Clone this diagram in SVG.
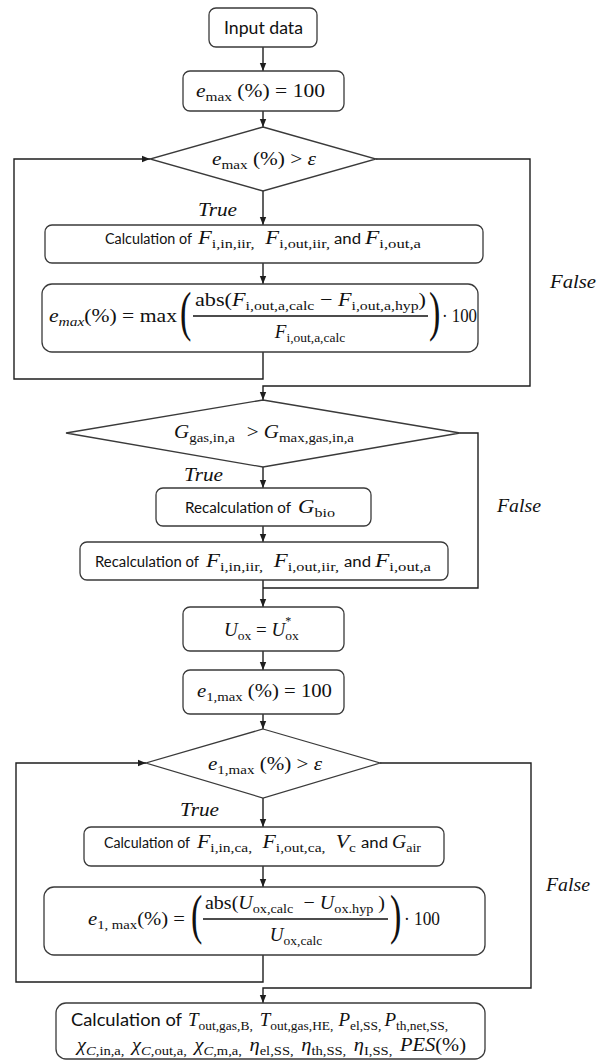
<svg xmlns="http://www.w3.org/2000/svg" width="603" height="1064" viewBox="0 0 603 1064">
<defs>
<style>
.bx{fill:#fff;stroke:#3a3a3a;stroke-width:1.3}
.ln{fill:none;stroke:#1e1e1e;stroke-width:1.4}
.ar{marker-end:url(#ah)}
text{fill:#111}
.s{font-family:Lato,"Liberation Sans",sans-serif;font-size:15.5px;font-style:normal}
.m{font-family:"Liberation Serif",serif;font-size:19px}
.i{font-style:italic}
.b{font-size:13.5px}
.s2{font-family:Lato,"Liberation Sans",sans-serif;font-size:17.5px;font-style:normal}
.bp{font-family:"Liberation Serif",serif;font-size:55px}
</style>
<marker id="ah" viewBox="0 0 10 10" refX="10" refY="5" markerWidth="8" markerHeight="8" markerUnits="userSpaceOnUse" orient="auto"><path d="M0,1 L10,5 L0,9 z" fill="#1e1e1e"/></marker>
</defs>
<rect width="603" height="1064" fill="#fff"/>
<g id="connectors">
<path class="ln ar" d="M263,47 V71"/>
<path class="ln ar" d="M263,111 V127"/>
<path class="ln ar" d="M263,191 V225"/>
<path class="ln ar" d="M263,263 V284"/>
<path class="ln ar" d="M263,352 V379 H14 V159 H150"/>
<path class="ln ar" d="M376,159 H530 V386 H263 V400"/>
<path class="ln ar" d="M263,467 V488"/>
<path class="ln ar" d="M263,526 V542"/>
<path class="ln ar" d="M263,580 V607"/>
<path class="ln" d="M460,433 H478 V588 H263"/>
<path class="ln ar" d="M263,651 V670"/>
<path class="ln ar" d="M263,714 V729"/>
<path class="ln ar" d="M263,798 V827"/>
<path class="ln ar" d="M263,866 V887"/>
<path class="ln ar" d="M263,955 V982 H16 V763 H146"/>
<path class="ln ar" d="M380,763 H531 V988 H263 V1003"/>
<text class="m i" x="198" y="216" textLength="39" lengthAdjust="spacingAndGlyphs">True</text>
<text class="m i" x="550" y="288" textLength="46" lengthAdjust="spacingAndGlyphs">False</text>
<text class="m i" x="184" y="481" textLength="39" lengthAdjust="spacingAndGlyphs">True</text>
<text class="m i" x="497" y="512" textLength="44" lengthAdjust="spacingAndGlyphs">False</text>
<text class="m i" x="180" y="816" textLength="39" lengthAdjust="spacingAndGlyphs">True</text>
<text class="m i" x="546" y="891" textLength="44" lengthAdjust="spacingAndGlyphs">False</text>
</g>
<g id="n-input">
<rect class="bx" x="209" y="8" width="108" height="39" rx="7"/>
<text class="s" style="font-size:18px" x="224" y="34" textLength="79" lengthAdjust="spacingAndGlyphs">Input data</text>
</g>
<g id="n-emax-init">
<rect class="bx" x="183" y="71" width="161" height="40" rx="7"/>
<text class="m" x="196" y="97" textLength="129" lengthAdjust="spacingAndGlyphs"><tspan class="i">e</tspan><tspan class="b" dy="4">max</tspan><tspan dy="-4"> (%) = 100</tspan></text>
</g>
<g id="n-dec1">
<polygon class="bx" points="263,127 376,159 263,191 150,159"/>
<text class="m" x="212" y="165" textLength="104" lengthAdjust="spacingAndGlyphs"><tspan class="i">e</tspan><tspan class="b" dy="4">max</tspan><tspan dy="-4"> (%) &gt; </tspan><tspan class="i">ε</tspan></text>
</g>
<g id="n-calc1">
<rect class="bx" x="45" y="225" width="438" height="38" rx="7"/>
<text class="s" x="105" y="244" textLength="87" lengthAdjust="spacingAndGlyphs">Calculation of</text>
<text class="m" x="198" y="244" textLength="132" lengthAdjust="spacingAndGlyphs"><tspan class="i">F</tspan><tspan class="b" dy="4">i,in,iir,</tspan><tspan class="i" dx="9" dy="-4">F</tspan><tspan class="b" dy="4">i,out,iir,</tspan></text>
<text class="s" x="334" y="244" textLength="27" lengthAdjust="spacingAndGlyphs">and</text>
<text class="m" x="365" y="244" textLength="56" lengthAdjust="spacingAndGlyphs"><tspan class="i">F</tspan><tspan class="b" dy="4">i,out,a</tspan></text>
</g>
<g id="n-formula1">
<rect class="bx" x="42" y="284" width="436" height="68" rx="10"/>
<text class="m" x="49" y="322" textLength="128" lengthAdjust="spacingAndGlyphs"><tspan class="i">e</tspan><tspan class="b i" dy="4">max</tspan><tspan dy="-4">(%) = max</tspan></text>
<text class="bp" transform="translate(180,330) scale(0.62,1)">(</text>
<text class="m" x="195" y="306" textLength="231" lengthAdjust="spacingAndGlyphs">abs(<tspan class="i">F</tspan><tspan class="b" dy="4">i,out,a,calc</tspan><tspan dy="-4"> − </tspan><tspan class="i">F</tspan><tspan class="b" dy="4">i,out,a,hyp</tspan><tspan dy="-4">)</tspan></text>
<line x1="193" y1="316" x2="428" y2="316" stroke="#111" stroke-width="1.3"/>
<text class="m" x="310" y="338" text-anchor="middle"><tspan class="i">F</tspan><tspan class="b" dy="4">i,out,a,calc</tspan></text>
<text class="bp" transform="translate(429,330) scale(0.62,1)">)</text>
<text class="m" x="442" y="322" textLength="35" lengthAdjust="spacingAndGlyphs">· 100</text>
</g>
<g id="n-dec2">
<polygon class="bx" points="263,400 460,433 263,467 66,433"/>
<text class="m" x="174" y="438" textLength="180" lengthAdjust="spacingAndGlyphs"><tspan class="i">G</tspan><tspan class="b" dy="4">gas,in,a</tspan><tspan dx="6" dy="-4"> &gt; </tspan><tspan class="i">G</tspan><tspan class="b" dy="4">max,gas,in,a</tspan></text>
</g>
<g id="n-gbio">
<rect class="bx" x="156" y="488" width="215" height="38" rx="7"/>
<text class="s" x="185" y="513" textLength="106" lengthAdjust="spacingAndGlyphs">Recalculation of</text>
<text class="m" x="298" y="513" textLength="37" lengthAdjust="spacingAndGlyphs"><tspan class="i">G</tspan><tspan class="b" dy="4">bio</tspan></text>
</g>
<g id="n-recalc">
<rect class="bx" x="80" y="542" width="368" height="38" rx="7"/>
<text class="s" x="95" y="567" textLength="104" lengthAdjust="spacingAndGlyphs">Recalculation of</text>
<text class="m" x="206" y="567" textLength="133" lengthAdjust="spacingAndGlyphs"><tspan class="i">F</tspan><tspan class="b" dy="4">i,in,iir,</tspan><tspan class="i" dx="9" dy="-4">F</tspan><tspan class="b" dy="4">i,out,iir,</tspan></text>
<text class="s" x="344" y="567" textLength="27" lengthAdjust="spacingAndGlyphs">and</text>
<text class="m" x="375" y="567" textLength="56" lengthAdjust="spacingAndGlyphs"><tspan class="i">F</tspan><tspan class="b" dy="4">i,out,a</tspan></text>
</g>
<g id="n-uox">
<rect class="bx" x="183" y="607" width="161" height="44" rx="7"/>
<text class="m" x="224" y="636"><tspan class="i">U</tspan><tspan class="b" dy="4">ox</tspan><tspan dy="-4"> = </tspan><tspan class="i">U</tspan><tspan class="b" style="font-size:12px" dy="-11">*</tspan><tspan class="b" dx="-6" dy="15">ox</tspan></text>
</g>
<g id="n-e1-init">
<rect class="bx" x="183" y="670" width="161" height="44" rx="7"/>
<text class="m" x="197" y="697" textLength="135" lengthAdjust="spacingAndGlyphs"><tspan class="i">e</tspan><tspan class="b" dy="4">1,max</tspan><tspan dy="-4"> (%) = 100</tspan></text>
</g>
<g id="n-dec3">
<polygon class="bx" points="263,729 380,763 263,798 146,763"/>
<text class="m" x="208" y="770" textLength="114" lengthAdjust="spacingAndGlyphs"><tspan class="i">e</tspan><tspan class="b" dy="4">1,max</tspan><tspan dy="-4"> (%) &gt; </tspan><tspan class="i">ε</tspan></text>
</g>
<g id="n-calc3">
<rect class="bx" x="84" y="827" width="360" height="39" rx="7"/>
<text class="s" x="104" y="848" textLength="86" lengthAdjust="spacingAndGlyphs">Calculation of</text>
<text class="m" x="197" y="848" textLength="159" lengthAdjust="spacingAndGlyphs"><tspan class="i">F</tspan><tspan class="b" dy="4">i,in,ca,</tspan><tspan class="i" dx="9" dy="-4">F</tspan><tspan class="b" dy="4">i,out,ca,</tspan><tspan class="i" dx="9" dy="-4">V</tspan><tspan class="b" dy="4">c</tspan></text>
<text class="s" x="361" y="848" textLength="27" lengthAdjust="spacingAndGlyphs">and</text>
<text class="m" x="392" y="848" textLength="29" lengthAdjust="spacingAndGlyphs"><tspan class="i">G</tspan><tspan class="b" dy="4">air</tspan></text>
</g>
<g id="n-formula2">
<rect class="bx" x="44" y="887" width="441" height="68" rx="10"/>
<text class="m" x="88" y="925" textLength="97" lengthAdjust="spacingAndGlyphs"><tspan class="i">e</tspan><tspan class="b" dy="4">1, max</tspan><tspan dy="-4">(%) =</tspan></text>
<text class="bp" transform="translate(191,933) scale(0.62,1)">(</text>
<text class="m" x="205" y="909" textLength="180" lengthAdjust="spacingAndGlyphs">abs(<tspan class="i">U</tspan><tspan class="b" dy="4">ox,calc</tspan><tspan dx="5" dy="-4"> − </tspan><tspan class="i">U</tspan><tspan class="b" dy="4">ox.hyp</tspan><tspan dy="-4"> )</tspan></text>
<line x1="203" y1="919" x2="388" y2="919" stroke="#111" stroke-width="1.3"/>
<text class="m" x="296" y="941" text-anchor="middle"><tspan class="i">U</tspan><tspan class="b" dy="4">ox,calc</tspan></text>
<text class="bp" transform="translate(390,933) scale(0.62,1)">)</text>
<text class="m" x="404" y="925" textLength="36" lengthAdjust="spacingAndGlyphs">· 100</text>
</g>
<g id="n-final">
<rect class="bx" x="56" y="1003" width="429" height="56" rx="10"/>
<text class="s2" x="71" y="1026" textLength="111" lengthAdjust="spacingAndGlyphs">Calculation of</text>
<text class="m" x="188" y="1026" textLength="260" lengthAdjust="spacingAndGlyphs"><tspan class="i">T</tspan><tspan class="b" dy="4">out,gas,B,</tspan><tspan class="i" dx="7" dy="-4">T</tspan><tspan class="b" dy="4">out,gas,HE,</tspan><tspan class="i" dx="5" dy="-4">P</tspan><tspan class="b" dy="4">el,SS,</tspan><tspan class="i" dx="3" dy="-4">P</tspan><tspan class="b" dy="4">th,net,SS,</tspan></text>
<text class="m" x="77" y="1051" textLength="389" lengthAdjust="spacingAndGlyphs"><tspan class="i">χ</tspan><tspan class="b i" dy="4">C</tspan><tspan class="b">,in,a,</tspan><tspan class="i" dx="7" dy="-4">χ</tspan><tspan class="b i" dy="4">C</tspan><tspan class="b">,out,a,</tspan><tspan class="i" dx="7" dy="-4">χ</tspan><tspan class="b i" dy="4">C</tspan><tspan class="b">,m,a,</tspan><tspan class="i" dx="7" dy="-4">η</tspan><tspan class="b" dy="4">el,SS,</tspan><tspan class="i" dx="7" dy="-4">η</tspan><tspan class="b" dy="4">th,SS,</tspan><tspan class="i" dx="7" dy="-4">η</tspan><tspan class="b" dy="4">I,SS,</tspan><tspan class="i" dx="7" dy="-4">PES</tspan><tspan>(%)</tspan></text>
</g>
</svg>
